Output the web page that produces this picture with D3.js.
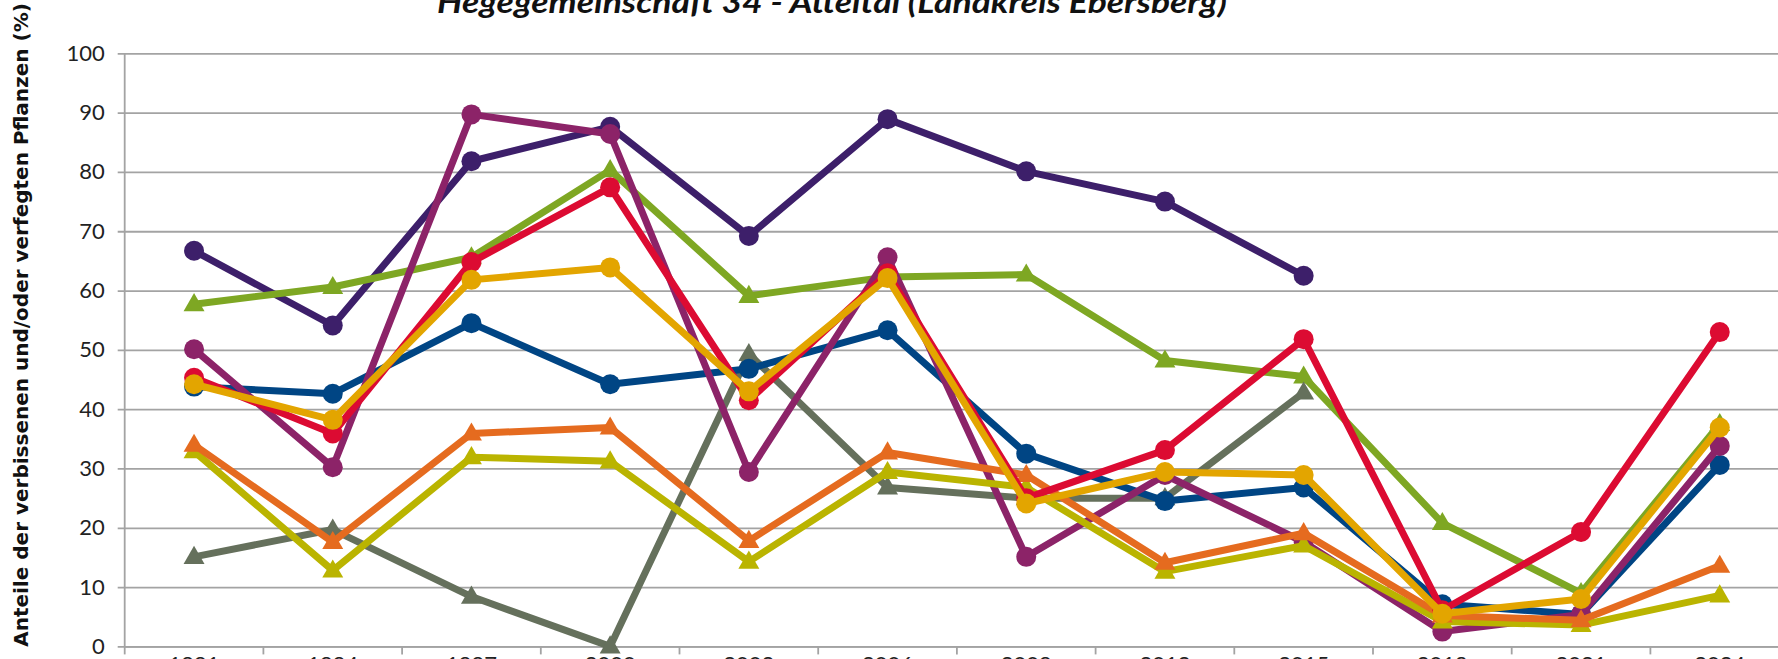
<!DOCTYPE html>
<html>
<head>
<meta charset="utf-8">
<script src="https://cdn.jsdelivr.net/npm/d3@7"></script>
<style>
  html, body { margin: 0; padding: 0; background: #fff; overflow: hidden; }
  svg { display: block; }
</style>
</head>
<body>
<div id="chart"></div>
<script>
// survey years (x categories)
const years = ["1991", "1994", "1997", "2000", "2003", "2006", "2009", "2012", "2015", "2018", "2021", "2024"];
const yTicks = [0, 10, 20, 30, 40, 50, 60, 70, 80, 90, 100];

// values per species line, null = no survey
const darkPurple = [66.7, 54.1, 81.8, 87.6, 69.2, 88.9, 80.1, 75.0, 62.5, null, null, null];
const green      = [57.7, 60.6, 65.6, 80.3, 59.1, 62.3, 62.7, 48.2, 45.5, 20.8, 9.0, 37.5];
const grey       = [15.1, 19.7, 8.4, 0.0, 49.3, 26.8, 25.0, 25.0, 42.8, null, null, null];
const darkBlue   = [43.8, 42.6, 54.5, 44.2, 46.8, 53.3, 32.5, 24.5, 26.8, 7.1, 5.4, 30.6];
const magenta    = [50.1, 30.2, 89.7, 86.4, 29.4, 65.6, 15.1, 28.9, 17.6, 2.5, 5.4, 33.8];
const olive      = [32.9, 12.8, 31.9, 31.2, 14.3, 29.4, 26.8, 12.6, 17.0, 4.2, 3.6, 8.6];
const orange     = [34.0, 17.6, 35.9, 36.9, 17.8, 32.7, 28.9, 14.1, 19.1, 5.2, 4.4, 13.6];
const red        = [45.3, 35.9, 64.8, 77.4, 41.5, 62.9, 25.0, 33.1, 51.8, 6.1, 19.3, 53.0];
const gold       = [44.2, 38.2, 61.8, 63.9, 43.0, 62.1, 24.1, 29.4, 28.9, 5.5, 8.0, 36.9];

const series = [
  {values: darkPurple, color: "#3d1f6a", marker: "circle"},
  {values: green, color: "#7ea723", marker: "triangle"},
  {values: grey, color: "#65705c", marker: "triangle"},
  {values: darkBlue, color: "#004584", marker: "circle"},
  {values: magenta, color: "#8c2368", marker: "circle"},
  {values: olive, color: "#bab400", marker: "triangle"},
  {values: orange, color: "#e56b1f", marker: "triangle"},
  {values: red, color: "#dc0b32", marker: "circle"},
  {values: gold, color: "#e3a500", marker: "circle"}
];

const width = 1778, height = 659;
const plotLeft = 124.7, plotTop = 53.3, plotBottom = 646.4, band = 138.7;

const svg = d3.select("#chart").append("svg")
    .attr("width", width)
    .attr("height", height);

const x = d3.scaleBand()
    .domain(years)
    .range([plotLeft, plotLeft + band * years.length]);

const y = d3.scaleLinear()
    .domain([0, 100])
    .range([plotBottom, plotTop]);

// gridlines + y axis
const yAxis = svg.append("g")
    .attr("transform", `translate(${plotLeft},0)`)
    .call(d3.axisLeft(y).tickValues(yTicks).tickSize(7).tickPadding(10)
      .tickFormat(d3.format("d")));
yAxis.select(".domain").remove();
yAxis.selectAll(".tick line")
    .attr("x2", x.range()[1] - plotLeft)
    .attr("x1", -7)
    .attr("stroke", "#a3a3a3")
    .attr("stroke-width", 1.8);
yAxis.selectAll(".tick text")
    .attr("x", -20)
    .style("font", "22px Lato, 'Open Sans', sans-serif")
    .attr("fill", "#222");

svg.append("line")
    .attr("x1", plotLeft).attr("x2", plotLeft)
    .attr("y1", plotTop).attr("y2", plotBottom)
    .attr("stroke", "#a3a3a3").attr("stroke-width", 1.8);

// x axis with ticks between categories
const xAxis = svg.append("g")
    .attr("transform", `translate(0,${plotBottom})`)
    .call(d3.axisBottom(x).tickSize(0).tickPadding(10));
xAxis.select(".domain").attr("stroke", "#a3a3a3").attr("stroke-width", 1.8);
xAxis.selectAll(".tick text")
    .style("font", "22px Lato, 'Open Sans', sans-serif")
    .attr("fill", "#222");
xAxis.selectAll(".sep")
    .data(d3.range(years.length + 1))
    .join("line")
    .attr("class", "sep")
    .attr("x1", i => plotLeft + i * x.bandwidth())
    .attr("x2", i => plotLeft + i * x.bandwidth())
    .attr("y1", 0).attr("y2", 8)
    .attr("stroke", "#a3a3a3").attr("stroke-width", 1.8);

const cx = d => x(d) + x.bandwidth() / 2;

const line = d3.line()
    .defined(d => d.v != null)
    .x(d => cx(d.year))
    .y(d => y(d.v));

const tri = d3.symbol().type(d3.symbolTriangle).size(190);

series.forEach(s => {
  const pts = years.map((yr, i) => ({year: yr, v: s.values[i]}));
  const g = svg.append("g");
  g.append("path")
      .datum(pts)
      .attr("fill", "none")
      .attr("stroke", s.color)
      .attr("stroke-width", 7)
      .attr("stroke-linejoin", "round")
      .attr("d", line);
  const shown = pts.filter(d => d.v != null);
  if (s.marker === "circle") {
    g.selectAll("circle").data(shown).join("circle")
        .attr("cx", d => cx(d.year))
        .attr("cy", d => y(d.v))
        .attr("r", 10)
        .attr("fill", s.color);
  } else {
    g.selectAll(".m").data(shown).join("path")
        .attr("class", "m")
        .attr("transform", d => `translate(${cx(d.year)},${y(d.v) + 1})`)
        .attr("d", tri)
        .attr("fill", s.color);
  }
});

// title (top is cropped in the original)
svg.append("text")
    .attr("x", 832)
    .attr("y", 13)
    .attr("text-anchor", "middle")
    .attr("textLength", 790)
    .attr("lengthAdjust", "spacingAndGlyphs")
    .style("font", "italic bold 30px Lato, sans-serif")
    .attr("fill", "#111")
    .text("Hegegemeinschaft 34 - Atteltal (Landkreis Ebersberg)");

svg.append("text")
    .attr("transform", `translate(28,${325}) rotate(-90)`)
    .attr("text-anchor", "middle")
    .style("font", "bold 20px 'DejaVu Sans', sans-serif")
    .attr("fill", "#111")
    .text("Anteile der verbissenen und/oder verfegten Pflanzen (%)");
</script>
</body>
</html>
